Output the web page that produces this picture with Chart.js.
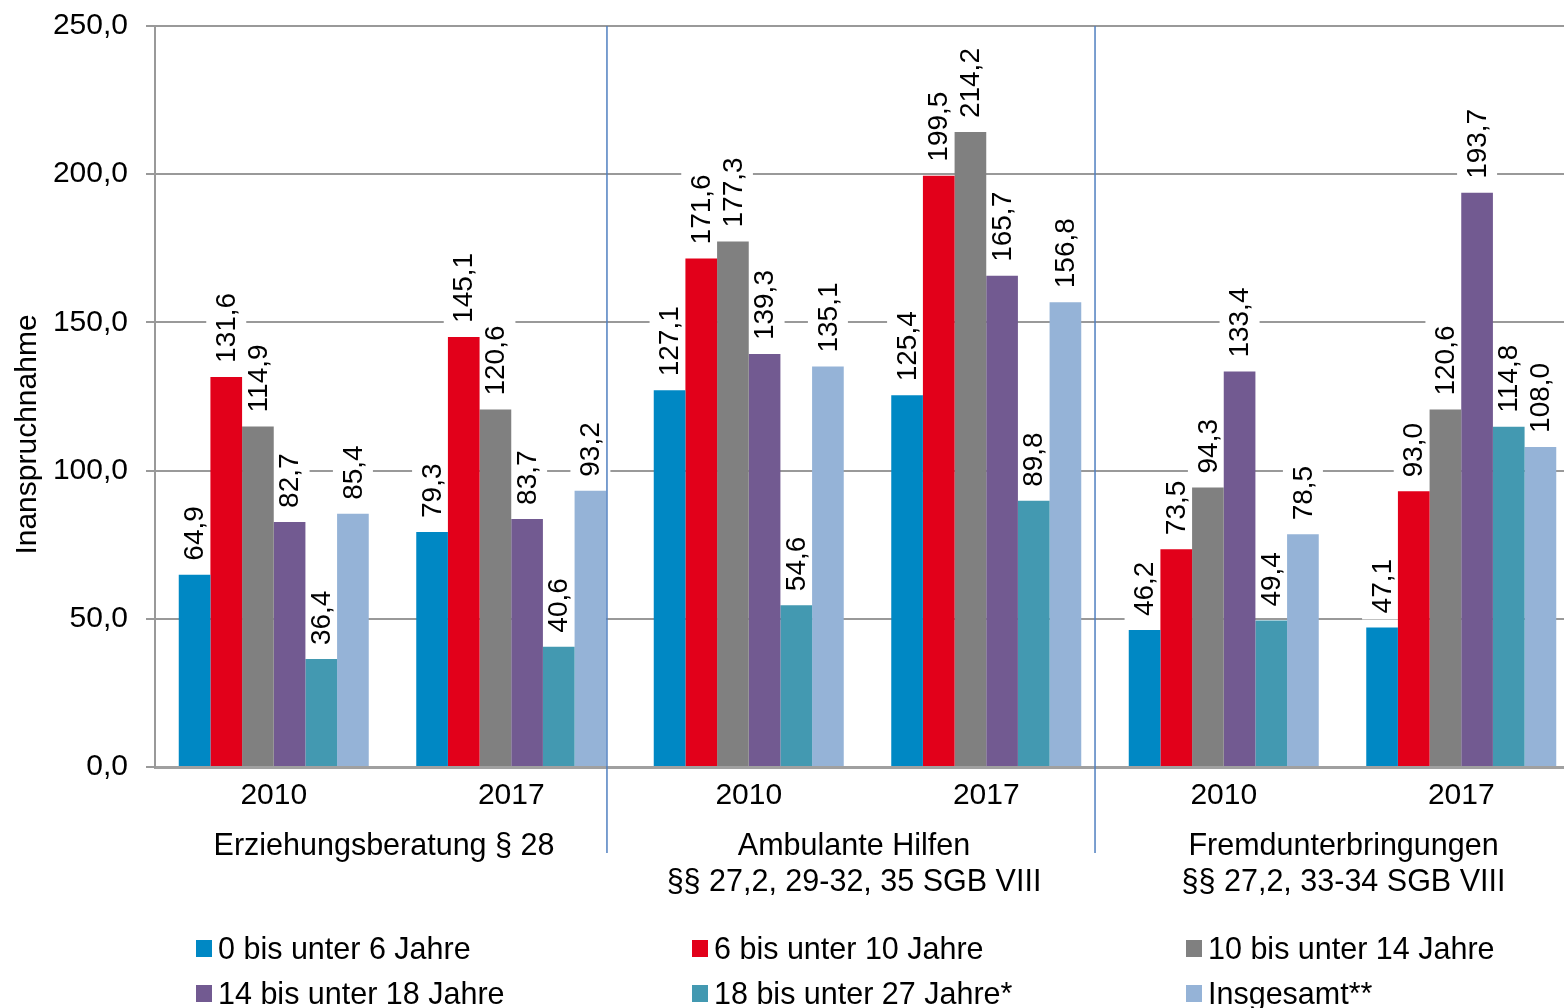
<!DOCTYPE html>
<html lang="de">
<head>
<meta charset="utf-8">
<title>Inanspruchnahme</title>
<script src="https://cdn.jsdelivr.net/npm/chart.js@4.4.1/dist/chart.umd.min.js"></script>
<style>
  html, body { margin: 0; padding: 0; background: #fff; overflow: hidden; }
  #wrap { position: relative; width: 1564px; height: 1008px; overflow: hidden; }
  #chart { position: absolute; left: 0; top: 0; }
  #legend {
    position: absolute; left: 196px; top: 926px;
    display: grid; grid-template-columns: 496px 494px 380px;
    font: 30.5px "Liberation Sans", Arial, sans-serif; color: #000;
  }
  #legend .item { display: flex; align-items: center; height: 45px; white-space: nowrap; }
  #legend .box { width: 16px; height: 17px; margin-right: 6px; flex: none; }
</style>
</head>
<body>
<div id="wrap">
  <canvas id="chart" width="1600" height="1008"></canvas>
  <div id="legend"></div>
</div>
<script>
// --- data ---
const years = ['2010', '2017', '2010', '2017', '2010', '2017'];
const groupNames = [
  ['Erziehungsberatung § 28'],
  ['Ambulante Hilfen', '§§ 27,2, 29-32, 35 SGB VIII'],
  ['Fremdunterbringungen', '§§ 27,2, 33-34 SGB VIII']
];
const seriesNames = [
  '0 bis unter 6 Jahre', '6 bis unter 10 Jahre', '10 bis unter 14 Jahre',
  '14 bis unter 18 Jahre', '18 bis unter 27 Jahre*', 'Insgesamt**'
];
const age0to6   = [64.9, 79.3, 127.1, 125.4, 46.2, 47.1];
const age6to10  = [131.6, 145.1, 171.6, 199.5, 73.5, 93.0];
const age10to14 = [114.9, 120.6, 177.3, 214.2, 94.3, 120.6];
const age14to18 = [82.7, 83.7, 139.3, 165.7, 133.4, 193.7];
const age18to27 = [36.4, 40.6, 54.6, 89.8, 49.4, 114.8];
const total     = [85.4, 93.2, 135.1, 156.8, 78.5, 108.0];
const yTicks = [0, 50, 100, 150, 200, 250];

const colors = ['#0088c4', '#e2001a', '#808080', '#725a91', '#4399b1', '#95b3d7'];
const FONT = '"Liberation Sans", Arial, sans-serif';

function fmt(v) {
  return Number(v).toFixed(1).replace('.', ',');
}

const seriesValues = [age0to6, age6to10, age10to14, age14to18, age18to27, total];

// Decorations: value labels, dividers, year + group labels, axis title
const decorPlugin = {
  id: 'decor',
  beforeDatasetsDraw(chart) {
    // white boxes behind value labels (cut the gridlines)
    const ctx = chart.ctx;
    ctx.save();
    ctx.font = '28px ' + FONT;
    ctx.fillStyle = '#fff';
    chart.data.datasets.forEach((ds, di) => {
      chart.getDatasetMeta(di).data.forEach((bar, i) => {
        const w = ctx.measureText(fmt(ds.data[i])).width;
        ctx.save();
        ctx.translate(bar.x, bar.y);
        ctx.rotate(-Math.PI / 2);
        ctx.fillRect(8, -20, w + 12, 40);
        ctx.restore();
      });
    });
    ctx.restore();
  },
  afterDatasetsDraw(chart) {
    const ctx = chart.ctx;
    ctx.save();
    ctx.font = '28px ' + FONT;
    ctx.fillStyle = '#000';
    ctx.textAlign = 'left';
    ctx.textBaseline = 'middle';
    chart.data.datasets.forEach((ds, di) => {
      chart.getDatasetMeta(di).data.forEach((bar, i) => {
        ctx.save();
        ctx.translate(bar.x + 1, bar.y);
        ctx.rotate(-Math.PI / 2);
        ctx.fillText(fmt(ds.data[i]), 14, 0);
        ctx.restore();
      });
    });
    ctx.restore();
  },
  afterDraw(chart) {
    const ctx = chart.ctx;
    const area = chart.chartArea;
    const x = chart.scales.x;
    const catW = (area.right - area.left) / years.length;

    // dividers between the three groups
    const divs = [
      x.getPixelForValue(1) + 0.403 * catW,
      x.getPixelForValue(3) + 0.458 * catW
    ];
    ctx.save();
    ctx.strokeStyle = '#4f7fc0';
    ctx.lineWidth = 1.5;
    divs.forEach(d => {
      ctx.beginPath();
      ctx.moveTo(d, area.top);
      ctx.lineTo(d, area.bottom + 86);
      ctx.stroke();
    });

    ctx.fillStyle = '#000';
    ctx.font = '30px ' + FONT;
    ctx.textAlign = 'center';
    ctx.textBaseline = 'middle';
    years.forEach((yr, i) => {
      ctx.fillText(yr, x.getPixelForValue(i), area.bottom + 29);
    });

    ctx.font = '30.5px ' + FONT;
    const bounds = [area.left, divs[0], divs[1], area.right];
    groupNames.forEach((lines, g) => {
      const cx = (bounds[g] + bounds[g + 1]) / 2 + (g === 2 ? 6 : 3);
      lines.forEach((t, li) => {
        ctx.fillText(t, cx, area.bottom + 80 + li * 36);
      });
    });

    // y axis title
    ctx.font = '30px ' + FONT;
    ctx.translate(28, (area.top + area.bottom) / 2 + 38);
    ctx.rotate(-Math.PI / 2);
    ctx.fillText('Inanspruchnahme', 0, 0);
    ctx.restore();
  }
};

new Chart(document.getElementById('chart'), {
  type: 'bar',
  data: {
    labels: years,
    datasets: seriesNames.map((name, i) => ({
      label: name,
      data: seriesValues[i],
      backgroundColor: colors[i],
      borderWidth: 0,
      categoryPercentage: 0.8,
      barPercentage: 1.0
    }))
  },
  options: {
    responsive: false,
    animation: false,
    devicePixelRatio: 1,
    layout: { padding: { left: 0, right: 20, top: 26, bottom: 0 } },
    plugins: {
      legend: { display: false },
      tooltip: { enabled: false }
    },
    scales: {
      x: {
        grid: { display: false },
        border: { display: true, color: '#a0a0a0', width: 3 },
        ticks: { display: false },
        afterFit: s => { s.height = 241; }
      },
      y: {
        min: 0,
        max: 250,
        afterBuildTicks: s => { s.ticks = yTicks.map(v => ({ value: v })); },
        afterFit: s => {
          s.width = 155;
          s.paddingTop = 0;
          s.paddingBottom = 0;
        },
        grid: { color: '#999', lineWidth: 2, tickLength: 9 },
        border: { display: true, color: '#999', width: 2 },
        ticks: {
          padding: 18,
          color: '#000',
          font: { family: FONT, size: 30 },
          callback: v => fmt(v)
        }
      }
    }
  },
  plugins: [decorPlugin]
});

// HTML legend in 3 columns
const legend = document.getElementById('legend');
seriesNames.forEach((name, i) => {
  const item = document.createElement('div');
  item.className = 'item';
  const box = document.createElement('span');
  box.className = 'box';
  box.style.background = colors[i];
  item.appendChild(box);
  item.appendChild(document.createTextNode(name));
  legend.appendChild(item);
});
</script>
</body>
</html>
